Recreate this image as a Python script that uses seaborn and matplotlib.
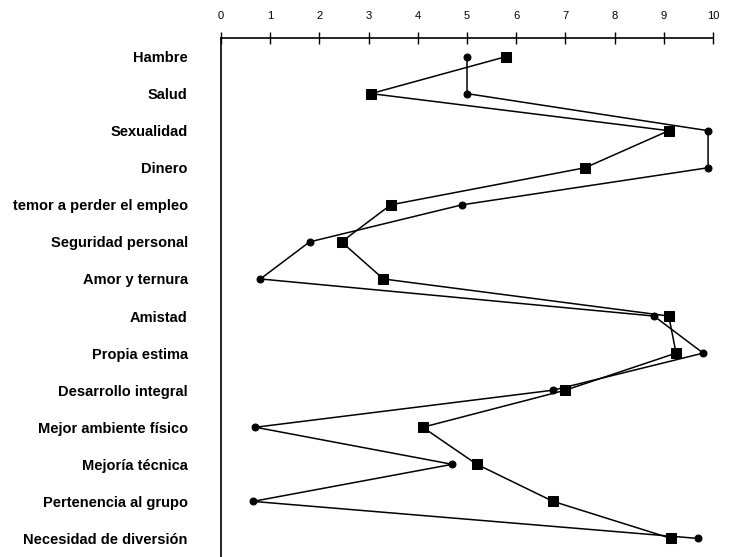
import matplotlib
matplotlib.use('Agg')
import matplotlib.pyplot as plt
import pandas as pd
import seaborn as sns

# Categorías (de arriba hacia abajo)
categorias = ['Hambre', 'Salud', 'Sexualidad', 'Dinero', 'temor a perder el empleo',
              'Seguridad personal', 'Amor y ternura', 'Amistad', 'Propia estima',
              'Desarrollo integral', 'Mejor ambiente físico', 'Mejoría técnica',
              'Pertenencia al grupo', 'Necesidad de diversión']

# Serie de círculos
circulos = [5.0, 5.0, 9.9, 9.9, 4.9, 1.8, 0.8, 8.8, 9.8, 6.75, 0.7, 4.7, 0.65, 9.7]
# Serie de cuadrados
cuadrados = [5.8, 3.05, 9.1, 7.4, 3.45, 2.45, 3.3, 9.1, 9.25, 7.0, 4.1, 5.2, 6.75, 9.15]

ticks_x = list(range(0, 11))

pos = list(range(len(categorias)))
df = pd.concat([
    pd.DataFrame({'valor': circulos, 'pos': pos, 'serie': 'circulo'}),
    pd.DataFrame({'valor': cuadrados, 'pos': pos, 'serie': 'cuadrado'}),
])

sns.set_style('white', {'text.color': 'black', 'xtick.color': 'black',
                        'ytick.color': 'black', 'axes.labelcolor': 'black'})
plt.rcParams['font.family'] = ['Liberation Sans', 'DejaVu Sans']

fig = plt.figure(figsize=(7.31, 5.57), dpi=100)
ax = fig.add_axes([221 / 731, 0.0, (713 - 221) / 731, 1 - 38 / 557])

sns.lineplot(data=df, x='valor', y='pos', hue='serie', style='serie',
             markers={'circulo': 'o', 'cuadrado': 's'}, dashes=False,
             palette={'circulo': 'black', 'cuadrado': 'black'},
             sort=False, estimator=None, legend=False, ax=ax,
             linewidth=1.1, markersize=6, markeredgecolor='black')

# los cuadrados un poco más grandes
for ln in ax.lines:
    if ln.get_marker() == 's':
        ln.set_markersize(7)
    else:
        ln.set_markersize(5)

ax.set_xlim(0, 10)
ax.set_ylim(len(categorias) - 0.5, -0.5)

ax.xaxis.tick_top()
ax.set_xticks(ticks_x)
ax.set_xticklabels([str(t) for t in ticks_x], fontsize=8)
ax.tick_params(axis='x', direction='inout', length=9, width=1, pad=8, colors='black')

ax.set_yticks(pos)
ax.set_yticklabels(categorias, fontsize=10.5, fontweight='bold', color='black')
ax.set_yticks([p + 0.5 for p in pos[:-1]], minor=True)
ax.tick_params(axis='y', which='major', length=0, pad=24)
ax.tick_params(axis='y', which='minor', direction='inout', length=12, width=1)

ax.set_xlabel('')
ax.set_ylabel('')
for lado in ['right', 'bottom']:
    ax.spines[lado].set_visible(False)
for lado in ['top', 'left']:
    ax.spines[lado].set_color('black')
    ax.spines[lado].set_linewidth(1.2)

plt.savefig('out.png', dpi=100)
